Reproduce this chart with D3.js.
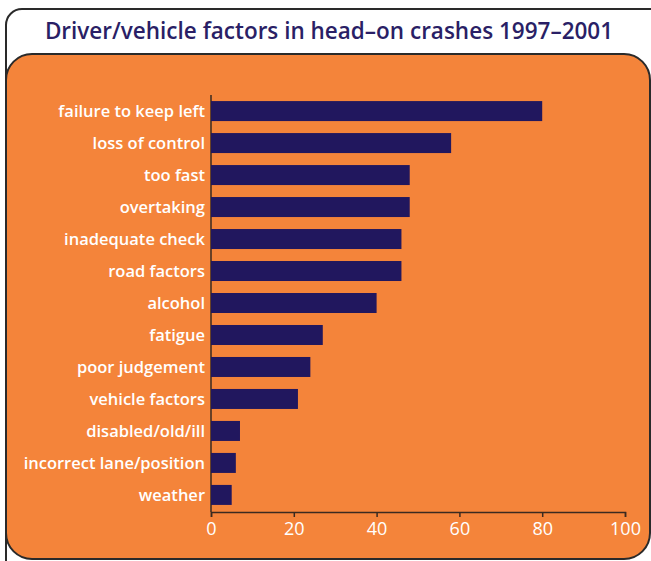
<!DOCTYPE html>
<html>
<head>
<meta charset="utf-8">
<script src="https://cdn.jsdelivr.net/npm/d3@7"></script>
<style>
  body { margin: 0; background: #fff; }
  svg { display: block; }
  text { font-family: "Open Sans", "Noto Sans", sans-serif; }
</style>
</head>
<body>
<div class="canvas"></div>
<script>
var categories = ["failure to keep left", "loss of control", "too fast", "overtaking",
  "inadequate check", "road factors", "alcohol", "fatigue", "poor judgement",
  "vehicle factors", "disabled/old/ill", "incorrect lane/position", "weather"];
var values = [80, 58, 48, 48, 46, 46, 40, 27, 24, 21, 7, 6, 5];
var xTicks = [0, 20, 40, 60, 80, 100];
var title = "Driver/vehicle factors in head\u2013on crashes 1997\u20132001";

var W = 651, H = 561;
var svg = d3.select(".canvas").append("svg").attr("width", W).attr("height", H);

// outer frame
svg.append("rect")
  .attr("x", 6).attr("y", 9).attr("width", 660).attr("height", 600)
  .attr("rx", 16).attr("ry", 16)
  .attr("fill", "#fff").attr("stroke", "#2a2a2a").attr("stroke-width", 2);

svg.append("text")
  .attr("x", 329).attr("y", 39)
  .attr("text-anchor", "middle")
  .attr("font-size", "22.5px").attr("font-weight", 600)
  .attr("fill", "#2a1f66")
  .text(title);

// orange panel
svg.append("rect")
  .attr("x", 6).attr("y", 54).attr("width", 644).attr("height", 505)
  .attr("rx", 26).attr("ry", 26)
  .attr("fill", "#f4843a").attr("stroke", "#2a2a2a").attr("stroke-width", 2);

var scaleX = d3.scaleLinear().domain([0, 100]).range([211, 625]);
var scaleY = d3.scaleBand().domain(categories).range([95, 511]).paddingInner(0.375).paddingOuter(0.19);

// y axis line
svg.append("line")
  .attr("x1", 211).attr("x2", 211).attr("y1", 95).attr("y2", 512)
  .attr("stroke", "#3a2a20").attr("stroke-width", 1.5);

svg.append("g")
  .selectAll("rect")
  .data(values)
  .enter()
  .append("rect")
  .attr("x", scaleX(0))
  .attr("y", function(d, i) { return scaleY(categories[i]); })
  .attr("width", function(d) { return scaleX(d) - scaleX(0); })
  .attr("height", scaleY.bandwidth())
  .attr("fill", "#21175e");

svg.append("g")
  .selectAll("text")
  .data(categories)
  .enter()
  .append("text")
  .attr("x", 205)
  .attr("y", function(d) { return scaleY(d) + scaleY.bandwidth() / 2; })
  .attr("dy", "0.35em")
  .attr("text-anchor", "end")
  .attr("font-size", "16.5px")
  .attr("font-weight", 600)
  .attr("fill", "#fff")
  .text(function(d) { return d; });

var xAxis = d3.axisBottom(scaleX).tickValues(xTicks).tickSize(5).tickPadding(5);
var ax = svg.append("g")
  .attr("class", "x axis")
  .attr("transform", "translate(0,512)")
  .call(xAxis);
ax.select(".domain").attr("stroke", "#3a2a20").attr("stroke-width", 1.5);
ax.selectAll(".tick line").attr("stroke", "#3a2a20").attr("stroke-width", 1.5);
ax.selectAll(".tick text")
  .attr("fill", "#fff")
  .attr("font-size", "18px")
  .attr("font-family", "\"Open Sans\", sans-serif");
</script>
</body>
</html>
